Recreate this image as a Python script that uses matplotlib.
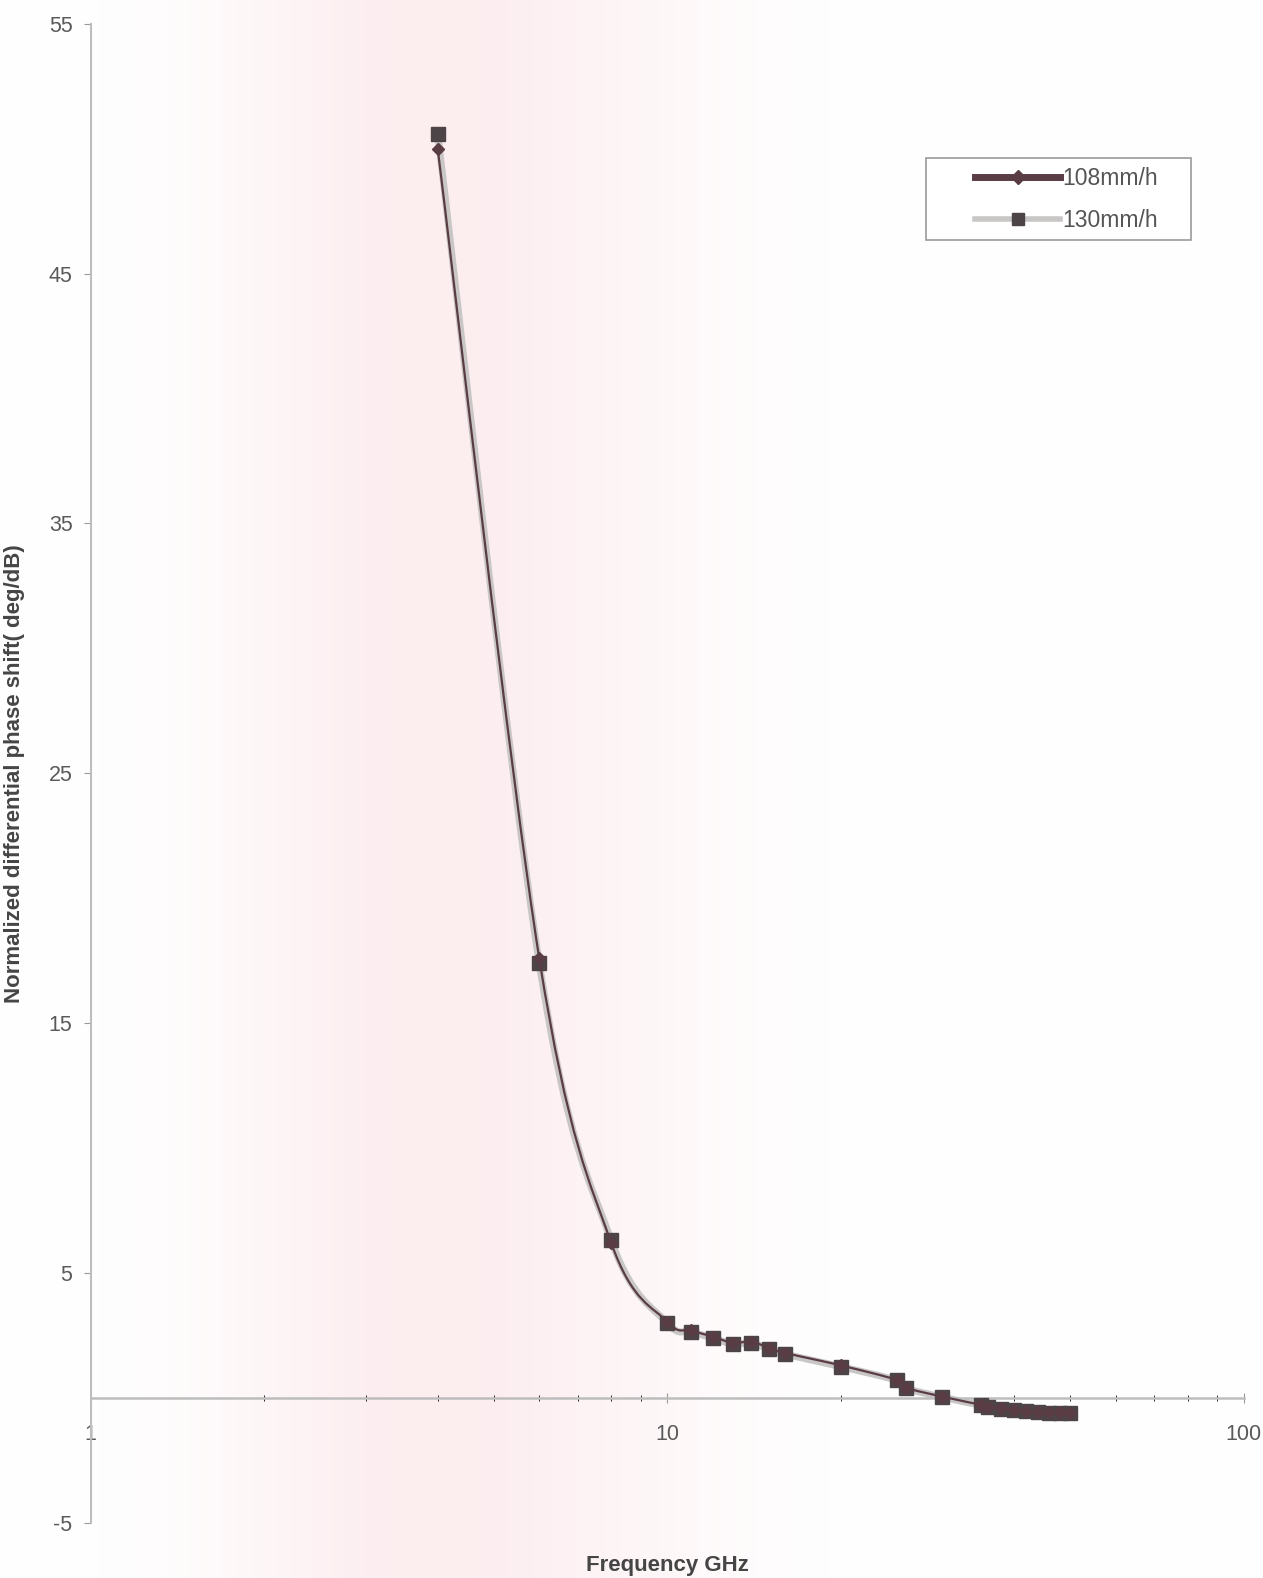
import numpy as np
import matplotlib
matplotlib.use('Agg')
import matplotlib.pyplot as plt
from matplotlib.path import Path
from matplotlib.patches import PathPatch, Rectangle
from matplotlib.lines import Line2D

plt.rcParams['font.family'] = ['Liberation Sans', 'DejaVu Sans']

# data
freq = [4, 6, 8, 10, 11, 12, 13, 14, 15, 16, 20, 25, 26, 30, 35, 36, 38, 40, 42, 44, 46, 48, 50]
rain_108 = [50.0, 17.6, 6.2, 3.05, 2.7, 2.45, 2.2, 2.25, 2.0, 1.8, 1.3, 0.72, 0.4, 0.05,
            -0.28, -0.35, -0.42, -0.48, -0.52, -0.55, -0.57, -0.58, -0.6]
rain_130 = [50.6, 17.4, 6.3, 3.0, 2.65, 2.4, 2.15, 2.2, 1.95, 1.75, 1.25, 0.7, 0.38, 0.03,
            -0.3, -0.37, -0.44, -0.5, -0.54, -0.57, -0.59, -0.6, -0.62]
series_names = ['108mm/h', '130mm/h']
y_ticks = [-5, 5, 15, 25, 35, 45, 55]


def smooth_path(x, y):
    # excel style smoothed line: bezier segments built in (log10 x, y) space
    lx = np.log10(x)
    y = np.asarray(y, float)
    n = len(lx)
    verts = [(x[0], y[0])]
    codes = [Path.MOVETO]
    for i in range(n - 1):
        p0 = max(i - 1, 0)
        p3 = min(i + 2, n - 1)
        c1x = lx[i] + (lx[i + 1] - lx[p0]) / 6
        c1y = y[i] + (y[i + 1] - y[p0]) / 6
        c2x = lx[i + 1] - (lx[p3] - lx[i]) / 6
        c2y = y[i + 1] - (y[p3] - y[i]) / 6
        verts += [(10 ** c1x, c1y), (10 ** c2x, c2y), (x[i + 1], y[i + 1])]
        codes += [Path.CURVE4] * 3
    return Path(verts, codes)


fig = plt.figure(figsize=(12.63, 15.78), dpi=100)
fig.patch.set_facecolor('white')

# pale pink cast of the scan
bg = fig.add_axes([0, 0, 1, 1], zorder=-10)
xs = np.linspace(0, 1, 400)
pink = np.exp(-((xs - 0.33) / 0.15) ** 2) * 0.9 + 0.25 * np.exp(-((xs - 0.5) / 0.12) ** 2)
img = np.ones((1, 400, 3))
img[0, :, 1] = 1 - 0.075 * pink
img[0, :, 2] = 1 - 0.065 * pink
img[0, :, 0] = 1 - 0.01 * pink
bg.imshow(img, aspect='auto', extent=[0, 1, 0, 1])
bg.axis('off')

ax = fig.add_axes([0.0717, 0.035, 0.913, 0.95])
ax.patch.set_alpha(0)
ax.set_xscale('log')
ax.set_xlim(1, 100)
ax.set_ylim(-5, 55)

c108 = '#5a3c45'
c130_line = '#c9c6c6'
c130_mark = '#4c4447'

ax.add_patch(PathPatch(smooth_path(freq, rain_130), fill=False, edgecolor=c130_line, lw=5, zorder=2))
ax.plot(freq, rain_130, ls='none', marker='s', ms=10, color=c130_mark, zorder=3)
ax.add_patch(PathPatch(smooth_path(freq, rain_108), fill=False, edgecolor=c108, lw=1.6, zorder=4))
ax.plot(freq, rain_108, ls='none', marker='D', ms=6, color=c108, zorder=4)

for s in ['top', 'right']:
    ax.spines[s].set_visible(False)
ax.spines['bottom'].set_position(('data', 0))
ax.spines['bottom'].set_color('#bdbdbd')
ax.spines['bottom'].set_linewidth(1.8)
ax.spines['left'].set_color('#bdbdbd')
ax.spines['left'].set_linewidth(1.5)

ax.set_yticks(y_ticks)
ax.set_yticklabels([str(t) for t in y_ticks])
ax.set_xticks([1, 10, 100])
ax.set_xticklabels(['1', '10', '100'])
ax.tick_params(axis='both', colors='#9a9a9a', labelcolor='#5a5a5a', labelsize=15.5)
ax.tick_params(axis='x', which='both', direction='inout', length=7, pad=15)
ax.tick_params(axis='x', which='minor', length=5)
ax.tick_params(axis='y', direction='out', length=5, pad=8)

ax.set_ylabel('Normalized differential phase shift( deg/dB)', fontsize=16, fontweight='bold',
              color='#454545')
ax.yaxis.set_label_coords(-0.057, 0.5)
fig.text(0.0717 + 0.913 / 2, 0.008, 'Frequency GHz', ha='center', va='center', fontsize=16,
         fontweight='bold', color='#454545')

# legend box drawn separately so the wide side margins match the original
fig.patches.append(Rectangle((0.733, 0.848), 0.21, 0.052, transform=fig.transFigure,
                             facecolor='white', edgecolor='#9a9a9a', lw=1.2, zorder=5))
handles = [Line2D([], [], color=c108, lw=5, marker='D', ms=7),
           Line2D([], [], color=c130_line, lw=4, marker='s', ms=9, markerfacecolor=c130_mark,
                  markeredgecolor=c130_mark)]
leg = fig.legend(handles, series_names, loc='upper left', bbox_to_anchor=(0.763, 0.9015),
                 fontsize=16.5, frameon=False, handlelength=3.7, handletextpad=0.1,
                 borderpad=0.0, labelspacing=0.85)
leg.set_zorder(6)
for t in leg.get_texts():
    t.set_color('#555555')

fig.savefig('out.png', dpi=100)
